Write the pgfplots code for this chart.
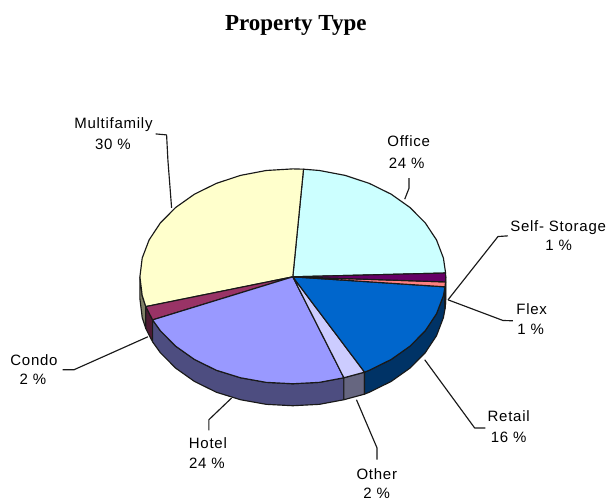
\documentclass[border=0pt]{standalone}
\usepackage{pgfplots}
\pgfplotsset{compat=1.18}
\usepackage{fontspec}
\setmainfont{Liberation Sans}
\newfontfamily\lab[LetterSpace=5]{Liberation Sans}
\newfontfamily\ttl{Liberation Serif}
\definecolor{office}{HTML}{CCFFFF}
\definecolor{multi}{HTML}{FFFFCC}
\definecolor{condo}{HTML}{993366}
\definecolor{hotel}{HTML}{9999FF}
\definecolor{other}{HTML}{CCCCFF}
\definecolor{retail}{HTML}{0066CC}
\definecolor{flex}{HTML}{FF8080}
\definecolor{selfst}{HTML}{660066}
\definecolor{multid}{HTML}{808066}
\definecolor{condod}{HTML}{4D1933}
\definecolor{hoteld}{HTML}{4D4D80}
\definecolor{otherd}{HTML}{666680}
\definecolor{retaild}{HTML}{003366}
\definecolor{flexd}{HTML}{804040}
\definecolor{selfd}{HTML}{330033}
\begin{document}
\begin{tikzpicture}
\begin{axis}[
  width=606pt,height=502pt,scale only axis,
  xmin=0,xmax=606,ymin=0,ymax=502,y dir=reverse,
  hide axis,clip=false,
  every axis plot/.append style={no markers,line width=1.15pt,line join=round,draw=black!90},
  lead/.style={draw=black!90,solid,line width=1.15pt},
]
% keeps the whole frame in the picture
\addplot[draw=none] coordinates {(0,0)(606,502)};
% side walls
\addplot[fill=multid] coordinates {(140,277)(142.3,295.8)(145.9,306.8)(145.9,328.8)(142.3,317.8)(140,299)(140,277)};
\addplot[fill=condod] coordinates {(145.9,306.8)(152.7,320.1)(152.7,342.1)(145.9,328.8)(145.9,306.8)};
\addplot[fill=hoteld] coordinates {(152.7,320.1)(160.5,331)(175.8,346.4)(194.6,359.7)(216.5,370.5)(240.7,378)(266.4,382.6)(293,384)(319.6,382.6)(344.1,378)
  (344.1,400)(319.6,404.6)(293,406)(266.4,404.6)(240.7,400)(216.5,392.5)(194.6,381.7)(175.8,368.4)(160.5,353)(152.7,342.1)(152.7,320.1)};
\addplot[fill=otherd] coordinates {(344.1,378)(364.8,372.4)(364.8,394.4)(344.1,400)(344.1,378)};
\addplot[fill=retaild] coordinates {(364.8,372.4)(369.5,370.5)(391.4,359.7)(410.2,346.4)(425.5,331)(436.8,313.9)(443.7,295.8)(445.3,287)
  (445.3,309)(443.7,317.8)(436.8,335.9)(425.5,353)(410.2,368.4)(391.4,381.7)(369.5,392.5)(364.8,394.4)(364.8,372.4)};
\addplot[fill=flexd] coordinates {(445.3,287)(445.8,282.1)(445.8,304.1)(445.3,309)(445.3,287)};
\addplot[fill=selfd] coordinates {(445.8,282.1)(446,277)(446,299)(445.8,304.1)(445.8,282.1)};
% top faces
\addplot[fill=office] coordinates {(293,277)(303.7,169.3)(319.6,170.6)(345.3,175.5)(369.5,183.5)(391.4,194.3)(410.2,207.6)(425.5,223)(436.8,240.1)(443.7,258.2)(445.9,273.2)(293,277)};
\addplot[fill=multi] coordinates {(293,277)(145.9,306.8)(142.3,295.8)(140,277)(142.3,258.2)(149.2,240.1)(160.5,223)(175.8,207.6)(194.6,194.3)(216.5,183.5)(240.7,175.5)(266.4,170.6)(293,169)(303.7,169.3)(293,277)};
\addplot[fill=condo] coordinates {(293,277)(152.7,320.1)(145.9,306.8)(293,277)};
\addplot[fill=hotel] coordinates {(293,277)(344.1,378)(319.6,382.6)(293,384)(266.4,382.6)(240.7,378)(216.5,370.5)(194.6,359.7)(175.8,346.4)(160.5,331)(152.7,320.1)(293,277)};
\addplot[fill=other] coordinates {(293,277)(364.8,372.4)(344.1,378)(293,277)};
\addplot[fill=retail] coordinates {(293,277)(445.3,287)(443.7,295.8)(436.8,313.9)(425.5,331)(410.2,346.4)(391.4,359.7)(369.5,370.5)(364.8,372.4)(293,277)};
\addplot[fill=flex] coordinates {(293,277)(445.8,282.1)(445.3,287)(293,277)};
\addplot[fill=selfst] coordinates {(293,277)(445.9,273.2)(446,277)(445.8,282.1)(293,277)};
% leader lines
\addplot[lead] coordinates {(155.7,134)(166.7,135)(168,160)(171.7,208)};
\addplot[lead] coordinates {(409.3,178.3)(409.3,188.3)(405,199.3)};
\addplot[lead] coordinates {(508.3,236)(498.3,236.7)(448.3,300)};
\addplot[lead] coordinates {(448.3,300)(503.3,320.7)(513.3,321)};
\addplot[lead] coordinates {(485.7,428.3)(475,428.3)(425,360)};
\addplot[lead] coordinates {(377.3,460)(377.3,448.3)(356.7,400)};
\addplot[lead] coordinates {(209,430.7)(209,420)(231.7,398.3)};
\addplot[lead] coordinates {(62.7,370)(74,370)(148,337)};
% text
\node[font=\ttl\fontsize{23}{25}\selectfont\bfseries,anchor=base] at (axis cs:296,31) {Property Type};
\tikzset{t/.style={font=\lab\fontsize{15}{17}\selectfont,inner sep=0pt,anchor=base}}
\node[t] at (axis cs:113.5,129) {Multifamily};
\node[t] at (axis cs:113,149.5) {30 \%};
\node[t] at (axis cs:409,147) {Office};
\node[t] at (axis cs:407,169) {24 \%};
\node[t] at (axis cs:558.5,232) {Self- Storage};
\node[t] at (axis cs:559,251) {1 \%};
\node[t] at (axis cs:532,315) {Flex};
\node[t] at (axis cs:531,335) {1 \%};
\node[t] at (axis cs:509,421.7) {Retail};
\node[t] at (axis cs:509,442.7) {16 \%};
\node[t] at (axis cs:377,480) {Other};
\node[t] at (axis cs:377,499.3) {2 \%};
\node[t] at (axis cs:208,448.3) {Hotel};
\node[t] at (axis cs:207,469.3) {24 \%};
\node[t] at (axis cs:34,366) {Condo};
\node[t] at (axis cs:33,385) {2 \%};
\end{axis}
\end{tikzpicture}
\end{document}
